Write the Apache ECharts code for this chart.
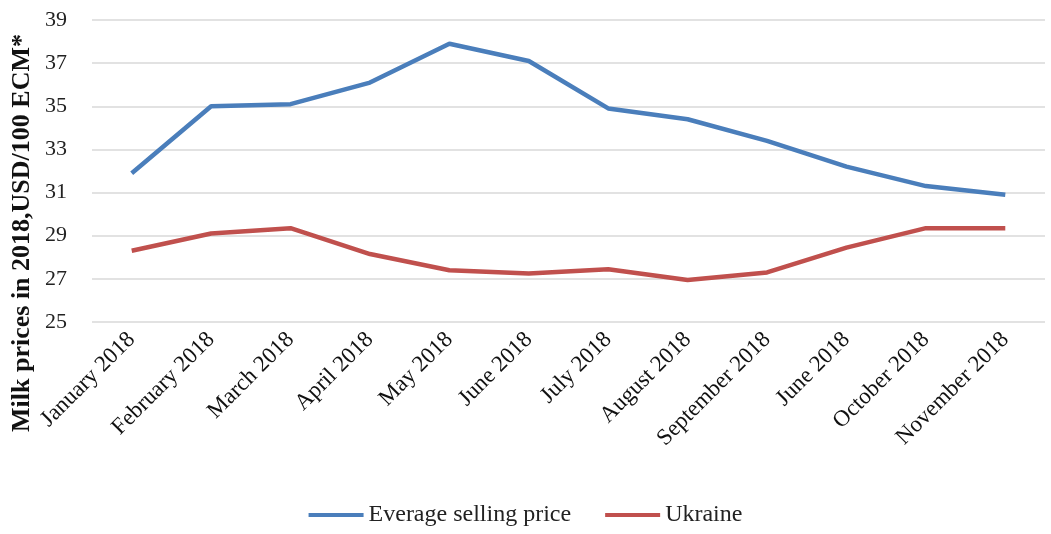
<!DOCTYPE html>
<html>
<head>
<meta charset="utf-8">
<script src="https://cdn.jsdelivr.net/npm/echarts@6/dist/echarts.min.js"></script>
<style>
  html, body { margin: 0; padding: 0; background: #fff; }
  #chart { width: 1051px; height: 534px; }
</style>
</head>
<body>
<div id="chart"></div>
<script>
const months = ['January 2018', 'February 2018', 'March 2018', 'April 2018', 'May 2018', 'June 2018',
  'July 2018', 'August 2018', 'September 2018', 'June 2018', 'October 2018', 'November 2018'];
const averagePrice = [31.9, 35.0, 35.1, 36.1, 37.9, 37.1, 34.9, 34.4, 33.4, 32.2, 31.3, 30.9];
const ukraine = [28.3, 29.1, 29.35, 28.15, 27.4, 27.25, 27.45, 26.95, 27.3, 28.45, 29.35, 29.35];
const seriesNames = ['Everage selling price', 'Ukraine'];

const font = '"Liberation Serif", "DejaVu Serif", serif';
const chart = echarts.init(document.getElementById('chart'));

chart.setOption({
  animation: false,
  textStyle: { fontFamily: font },
  grid: { left: 92, right: 6, top: 20, bottom: 212 },
  legend: {
    bottom: 2,
    left: 'center',
    itemWidth: 55,
    itemHeight: 4,
    itemGap: 34,
    icon: 'rect',
    textStyle: { fontFamily: font, fontSize: 24, color: '#222' },
    data: seriesNames
  },
  graphic: [{
    type: 'text',
    x: 22,
    y: 233,
    rotation: Math.PI / 2,
    style: {
      text: 'Milk prices in 2018,USD/100 ECM*',
      font: 'bold 26px ' + font,
      fill: '#111',
      align: 'center',
      verticalAlign: 'middle'
    }
  }],
  xAxis: {
    type: 'category',
    data: months,
    boundaryGap: true,
    axisLine: { show: false },
    axisTick: { show: false },
    axisLabel: { rotate: 45, fontSize: 23, color: '#111', interval: 0, margin: 14 }
  },
  yAxis: {
    type: 'value',
    min: 25,
    max: 39,
    interval: 2,
    axisLine: { show: false },
    axisTick: { show: false },
    axisLabel: { fontSize: 22, color: '#222', margin: 25 },
    splitLine: { lineStyle: { color: '#d9d9d9', width: 1.5 } }
  },
  series: [
    {
      name: seriesNames[0], type: 'line', data: averagePrice,
      symbol: 'none', lineStyle: { width: 4.5, color: '#4a7ebb' }, itemStyle: { color: '#4a7ebb' }
    },
    {
      name: seriesNames[1], type: 'line', data: ukraine,
      symbol: 'none', lineStyle: { width: 4.5, color: '#c0504d' }, itemStyle: { color: '#c0504d' }
    }
  ]
});
</script>
</body>
</html>
